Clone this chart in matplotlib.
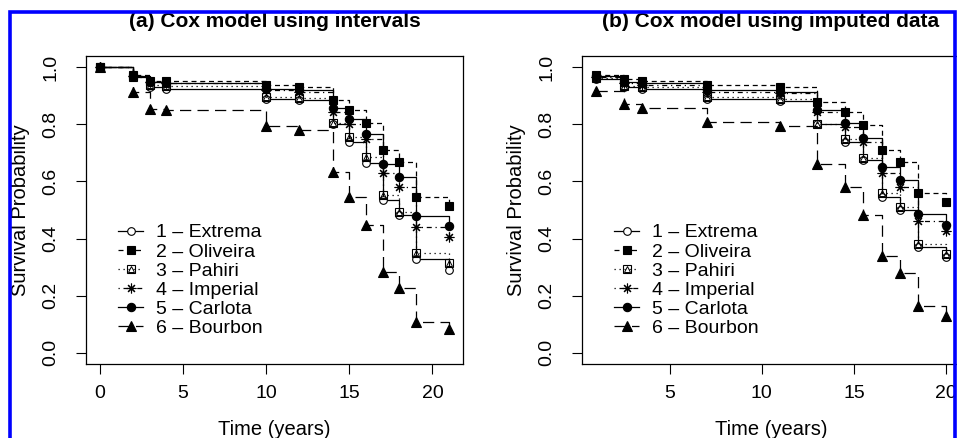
import matplotlib
matplotlib.use('Agg')
import matplotlib.pyplot as plt
from matplotlib.lines import Line2D
from matplotlib.patches import Rectangle
from matplotlib.legend_handler import HandlerTuple

plt.rcParams['font.family'] = ['Liberation Sans', 'DejaVu Sans']

# values (survival probability at each event time)
times_a = [0, 2, 3, 4, 10, 12, 14, 15, 16, 17, 18, 19, 21]
extrema_a = [1.0, 0.965, 0.93, 0.923, 0.89, 0.887, 0.80, 0.74, 0.666, 0.535, 0.482, 0.327, 0.289]
oliveira_a = [1.0, 0.972, 0.954, 0.954, 0.937, 0.933, 0.884, 0.849, 0.806, 0.711, 0.669, 0.546, 0.514]
pahiri_a = [1.0, 0.967, 0.94, 0.935, 0.895, 0.892, 0.805, 0.757, 0.687, 0.553, 0.493, 0.349, 0.313]
imperial_a = [1.0, 0.97, 0.95, 0.945, 0.92, 0.915, 0.845, 0.80, 0.75, 0.63, 0.581, 0.442, 0.405]
carlota_a = [1.0, 0.97, 0.948, 0.947, 0.925, 0.92, 0.859, 0.82, 0.767, 0.662, 0.616, 0.479, 0.444]
bourbon_a = [1.0, 0.913, 0.855, 0.849, 0.796, 0.782, 0.634, 0.546, 0.447, 0.282, 0.225, 0.106, 0.084]

times_b = [1, 2.5, 3.5, 7, 11, 13, 14.5, 15.5, 16.5, 17.5, 18.5, 20]
extrema_b = [0.96, 0.93, 0.923, 0.89, 0.882, 0.80, 0.74, 0.675, 0.546, 0.50, 0.37, 0.334]
oliveira_b = [0.975, 0.958, 0.954, 0.937, 0.933, 0.877, 0.842, 0.799, 0.711, 0.669, 0.56, 0.528]
pahiri_b = [0.962, 0.935, 0.93, 0.895, 0.888, 0.80, 0.75, 0.683, 0.56, 0.51, 0.38, 0.345]
imperial_b = [0.968, 0.945, 0.94, 0.915, 0.91, 0.845, 0.79, 0.74, 0.63, 0.58, 0.461, 0.426]
carlota_b = [0.97, 0.948, 0.945, 0.92, 0.915, 0.849, 0.806, 0.754, 0.65, 0.606, 0.486, 0.447]
bourbon_b = [0.919, 0.87, 0.859, 0.81, 0.796, 0.66, 0.579, 0.482, 0.338, 0.278, 0.165, 0.13]

labels = ['1 \u2013 Extrema', '2 \u2013 Oliveira', '3 \u2013 Pahiri',
          '4 \u2013 Imperial', '5 \u2013 Carlota', '6 \u2013 Bourbon']
titles = ['(a) Cox model using intervals', '(b) Cox model using imputed data']
yticks = [0.0, 0.2, 0.4, 0.6, 0.8, 1.0]

# line type / symbol for each cultivar (R lty 1..6 style)
linestyles = ['-', (0, (4, 3)), (0, (1, 3)), (0, (1, 3, 4, 3)), '-', (0, (9, 5))]
markers = ['o', 's', 's', (8, 2, 0), 'o', '^']
facecolors = ['white', 'black', 'none', 'none', 'black', 'black']
msizes = [5.5, 5.5, 5.5, 7, 6, 6.5]
LW = 0.9

fig = plt.figure(figsize=(9.57, 4.38), dpi=100)
ax_a = fig.add_axes([86 / 957, 74 / 438, 377 / 957, 308 / 438])
ax_b = fig.add_axes([582 / 957, 74 / 438, 378 / 957, 308 / 438])


def draw_panel(ax, t, curves, title, xlim, xticks):
    for i, s in enumerate(curves):
        ax.plot(t, s, drawstyle='steps-post', color='k', lw=LW, ls=linestyles[i])
        ax.plot(t, s, ls='none', marker=markers[i], ms=msizes[i],
                mfc=facecolors[i], mec='k', mew=0.8)
        if i == 2:
            # Pahiri symbol: square with a triangle inside
            ax.plot(t, s, ls='none', marker='^', ms=4, mfc='none', mec='k', mew=0.7)

    ax.set_xlim(xlim)
    ax.set_ylim(-0.04, 1.04)
    ax.set_xticks(xticks)
    ax.set_yticks(yticks)
    ax.set_yticklabels(['%.1f' % v for v in yticks])
    ax.tick_params(axis='x', length=7, width=0.8, pad=8, labelsize=14)
    ax.tick_params(axis='y', length=7, width=0.8, pad=12, labelsize=14, labelrotation=90)
    plt.setp(ax.get_yticklabels(), va='center')
    for sp in ax.spines.values():
        sp.set_linewidth(0.9)

    ax.set_title(title, fontsize=15, fontweight='bold', pad=21)
    ax.set_xlabel('Time (years)', fontsize=14.5)
    ax.xaxis.set_label_coords(0.5, -0.182)
    ax.set_ylabel('Survival Probability', fontsize=14.5)
    ax.yaxis.set_label_coords(-0.148, 0.5)

    # legend
    handles = []
    for i in range(6):
        h = Line2D([], [], color='k', lw=LW, ls=linestyles[i], marker=markers[i],
                   ms=msizes[i], mfc=facecolors[i], mec='k', mew=0.8)
        if i == 2:
            h = (h, Line2D([], [], ls='none', marker='^', ms=4, mfc='none',
                           mec='k', mew=0.7))
        handles.append(h)
    ax.legend(handles, labels, loc='upper left', bbox_to_anchor=(0.085, 0.455),
              frameon=False, fontsize=14, borderpad=0, borderaxespad=0,
              handlelength=1.3, handletextpad=0.65, labelspacing=0.08,
              numpoints=1, handler_map={tuple: HandlerTuple(ndivide=1, pad=0)})


draw_panel(ax_a, times_a,
           [extrema_a, oliveira_a, pahiri_a, imperial_a, carlota_a, bourbon_a],
           titles[0], (-0.84, 21.84), [0, 5, 10, 15, 20])
draw_panel(ax_b, times_b,
           [extrema_b, oliveira_b, pahiri_b, imperial_b, carlota_b, bourbon_b],
           titles[1], (0.24, 20.76), [5, 10, 15, 20])

# blue frame around the cropped figure
frame = Rectangle((10 / 957, -1.5 / 438), 945 / 957, 427.5 / 438,
                  transform=fig.transFigure, fill=False, ec='#0000ff', lw=2.6,
                  zorder=10, clip_on=False)
fig.add_artist(frame)

fig.savefig('out.png', dpi=100)
